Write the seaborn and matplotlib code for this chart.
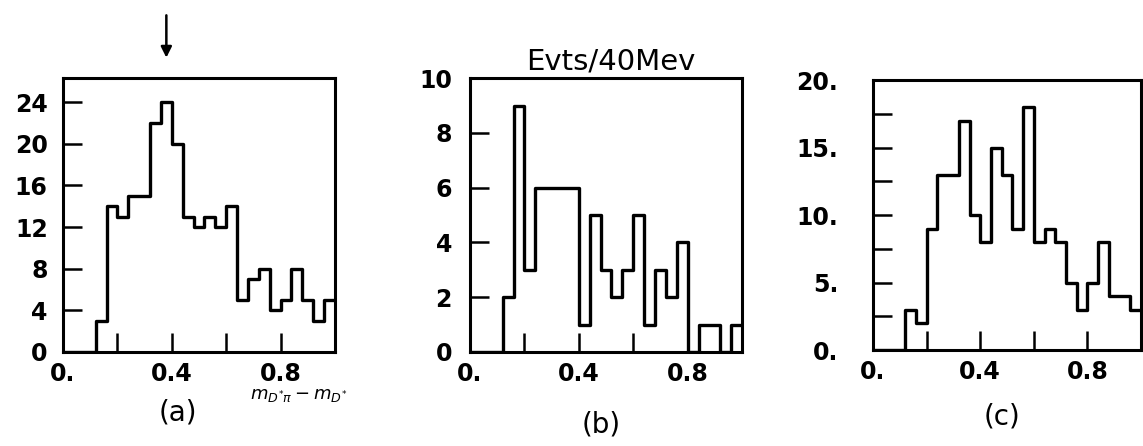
import numpy as np
import pandas as pd
import seaborn as sns
import matplotlib.pyplot as plt

# bin edges: 25 bins of 40 MeV from 0 to 1.0 GeV
bin_edges = [round(0.04 * i, 2) for i in range(26)]

# counts per bin
counts_a = [0, 0, 0, 3, 14, 13, 15, 15, 22, 24, 20, 13, 12, 13, 12, 14, 5, 7, 8, 4, 5, 8, 5, 3, 5]
counts_b = [0, 0, 0, 2, 9, 3, 6, 6, 6, 6, 1, 5, 3, 2, 3, 5, 1, 3, 2, 4, 0, 1, 1, 0, 1]
counts_c = [0, 0, 0, 3, 2, 9, 13, 13, 17, 10, 8, 15, 13, 9, 18, 8, 9, 8, 5, 3, 5, 8, 4, 4, 3]

xticks = [0, 0.2, 0.4, 0.6, 0.8]
xticklabels = ["0.", "", "0.4", "", "0.8"]

yticks_a = [0, 4, 8, 12, 16, 20, 24]
yticklabels_a = ["0", "4", "8", "12", "16", "20", "24"]
yticks_b = [0, 2, 4, 6, 8, 10]
yticklabels_b = ["0", "2", "4", "6", "8", "10"]
yticks_c = [0, 2.5, 5, 7.5, 10, 12.5, 15, 17.5, 20]
yticklabels_c = ["0.", "", "5.", "", "10.", "", "15.", "", "20."]

panel_names = ["(a)", "(b)", "(c)"]
peak_x = 0.38   # arrow over panel (a)

sns.set_theme(style="white")
plt.rcParams['font.family'] = ['DejaVu Sans']
plt.rcParams['text.color'] = 'black'

fig = plt.figure(figsize=(11.43, 4.46), dpi=100)
ax_a = fig.add_axes([0.0551, 0.2108, 0.238, 0.614])
ax_b = fig.add_axes([0.4112, 0.2108, 0.238, 0.614])
ax_c = fig.add_axes([0.7638, 0.2152, 0.2345, 0.6054])

centers = [(bin_edges[i] + bin_edges[i + 1]) / 2 for i in range(25)]

setup = [
    (ax_a, counts_a, yticks_a, yticklabels_a, 26.3, 11),
    (ax_b, counts_b, yticks_b, yticklabels_b, 10, 13),
    (ax_c, counts_c, yticks_c, yticklabels_c, 20, 25),
]

for ax, cnt, yt, ytl, ymax, ypad in setup:
    df = pd.DataFrame({"m": centers, "n": cnt})
    sns.histplot(data=df, x="m", weights="n", bins=bin_edges, element="step",
                 fill=False, color="black", linewidth=2.4, ax=ax)
    ax.set_xlim(0, 1.0)
    ax.set_ylim(0, ymax)
    ax.set_xticks(xticks)
    ax.set_xticklabels(xticklabels)
    ax.set_yticks(yt)
    ax.set_yticklabels(ytl)
    ax.set_xlabel("")
    ax.set_ylabel("")
    ax.tick_params(axis="both", direction="in", length=14, width=1.8,
                   colors="black", labelsize=17, bottom=True, left=True,
                   top=False, right=False)
    ax.tick_params(axis="x", pad=7)
    ax.tick_params(axis="y", pad=ypad)
    for lab in ax.get_xticklabels() + ax.get_yticklabels():
        lab.set_fontweight("bold")
    for sp in ax.spines.values():
        sp.set_visible(True)
        sp.set_color("black")
        sp.set_linewidth(2.2)

ax_a.annotate("", xy=(peak_x, 28.0), xytext=(peak_x, 32.6),
              arrowprops=dict(arrowstyle="-|>", color="black", lw=1.8,
                              mutation_scale=16),
              annotation_clip=False)

fig.text(0.5346, 0.863, "Evts/40Mev", fontsize=21, ha="center", va="center")
fig.text(0.2616, 0.114, r"$m_{D^{*}\pi} - m_{D^{*}}$", fontsize=13,
         ha="center", va="center")
fig.text(0.1557, 0.074, panel_names[0], fontsize=20, ha="center", va="center")
fig.text(0.5264, 0.049, panel_names[1], fontsize=20, ha="center", va="center")
fig.text(0.8764, 0.067, panel_names[2], fontsize=20, ha="center", va="center")

fig.savefig("out.png", dpi=100, facecolor="white")
